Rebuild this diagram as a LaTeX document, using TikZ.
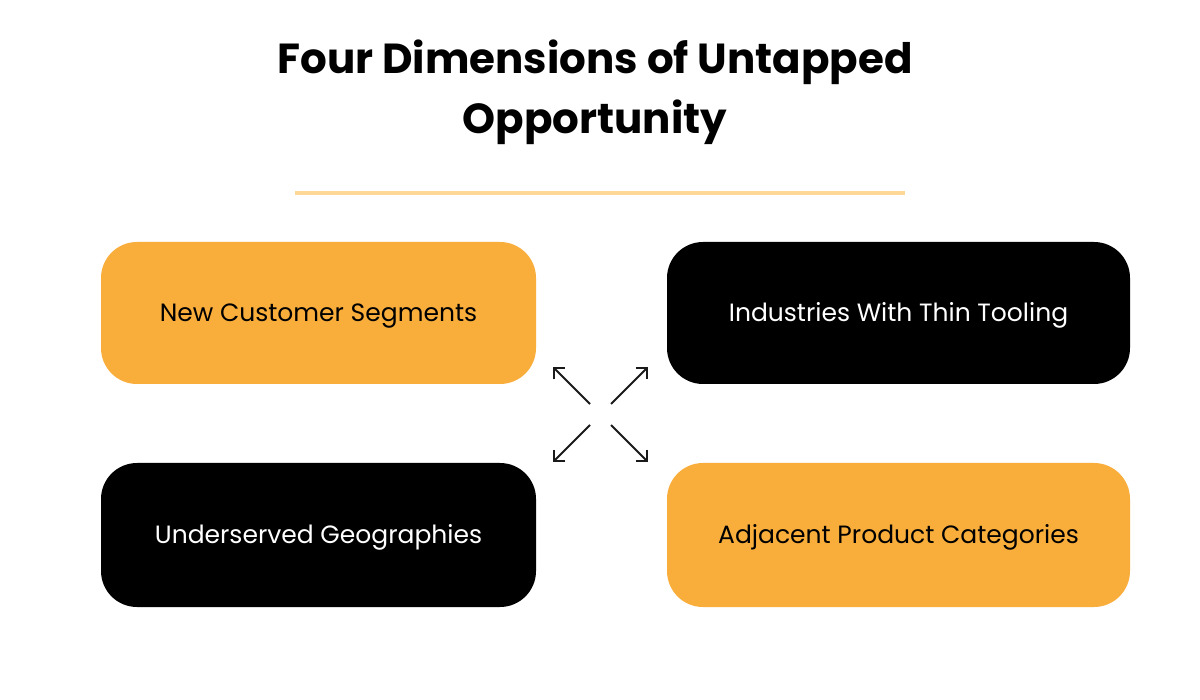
\documentclass[tikz,border=0pt]{standalone}
\usepackage{fontspec}
\setmainfont{Poppins}
\usetikzlibrary{arrows.meta}
\definecolor{orng}{HTML}{F9AE3C}
\definecolor{lineorng}{HTML}{FDD896}
\definecolor{ink}{HTML}{1A1A1A}
\newcommand{\lowered}[1]{\raisebox{-9pt}[0pt][0pt]{#1}}
\begin{document}
\begin{tikzpicture}[x=1pt,y=-1pt,
  card/.style={rounded corners=36pt, minimum width=#1, minimum height=142pt, inner sep=0pt, font=\fontsize{25}{30}\selectfont},
  orangecard/.style={card=435pt, fill=orng, text=black},
  blackcard/.style={card=463pt, fill=black, text=white},
  arr/.style={draw=ink, line width=2pt, -{Straight Barb[length=8pt,width=16pt,line width=2pt]}}]
\useasboundingbox[fill=white] (0,0) rectangle (1200,700);
\node[font=\fontsize{42}{60}\selectfont\bfseries, align=center] (title) at (595,92) {Four Dimensions of Untapped\\Opportunity};
\coordinate (l1) at (295,193);
\coordinate (l2) at (905,193);
\draw[lineorng, line width=3.5pt] (l1) -- (l2);
\node[orangecard] (tl) at (318.5,313) {\lowered{New Customer Segments}};
\node[blackcard] (tr) at (898.5,313) {\lowered{Industries With Thin Tooling}};
\node[card=435pt, minimum height=144pt, fill=black, text=white] (bl) at (318.5,535) {\lowered{Underserved Geographies}};
\node[card=463pt, minimum height=144pt, fill=orng, text=black] (br) at (898.5,535) {\lowered{Adjacent Product Categories}};
\coordinate (s1) at (590,404); \coordinate (e1) at (553,367);
\coordinate (s2) at (611,404); \coordinate (e2) at (648,367);
\coordinate (s3) at (590,425); \coordinate (e3) at (553,462);
\coordinate (s4) at (611,425); \coordinate (e4) at (648,462);
\draw[arr] (s1) -- (e1);
\draw[arr] (s2) -- (e2);
\draw[arr] (s3) -- (e3);
\draw[arr] (s4) -- (e4);
\end{tikzpicture}
\end{document}
